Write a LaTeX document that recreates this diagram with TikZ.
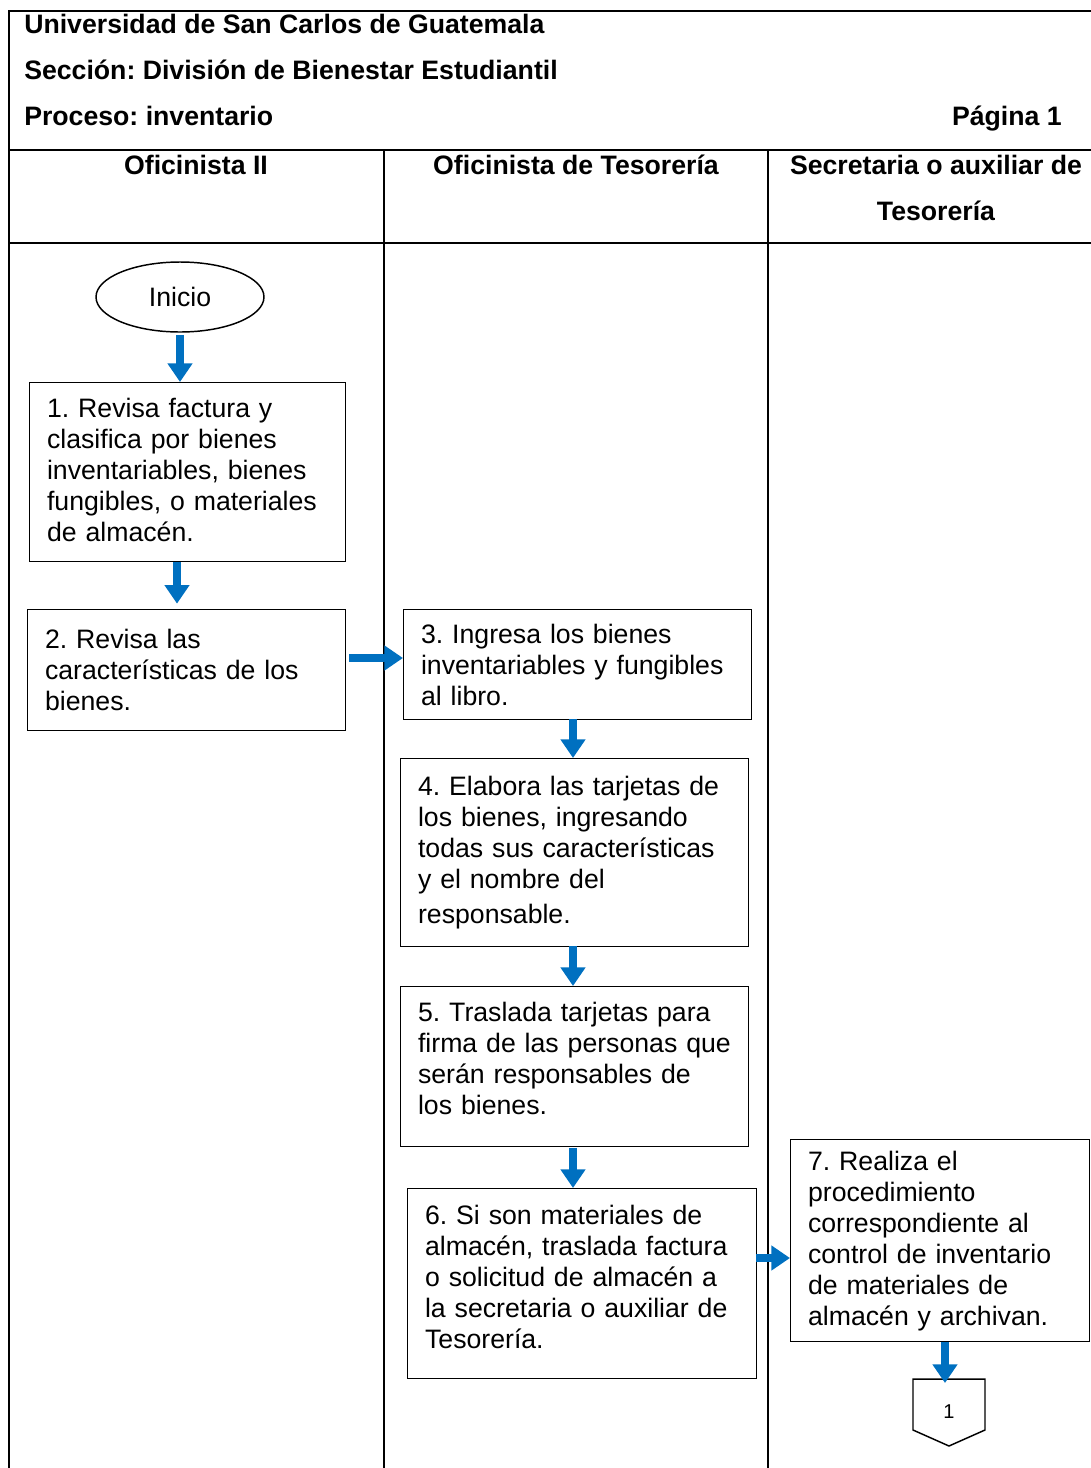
\documentclass[tikz,border=0pt]{standalone}
\usepackage{fontspec}
\setmainfont{Liberation Sans}
\frenchspacing
\usetikzlibrary{arrows.meta,shapes.geometric,positioning}
\definecolor{azul}{RGB}{0,112,192}
\newcommand{\colchon}[1]{\par\vspace{#1}\hrule height 0pt}
\tikzset{
  caja/.style={draw,line width=1.1pt,anchor=north west,align=left,inner xsep=13pt,
    font=\fontsize{20}{23.25}\selectfont},
  flecha/.style={azul,line width=6pt,-{Triangle[length=14pt,width=18pt]}},
  tabla/.style={line width=1.5pt},
  titulo/.style={font=\fontsize{20}{23}\selectfont\bfseries,inner sep=0pt}
}
\begin{document}
\begin{tikzpicture}[x=0.75pt,y=-0.75pt]
\useasboundingbox (0,0) rectangle (1091,1468);
\clip (0,0) rectangle (1091,1468);
% marco y carriles
\draw[tabla] (1100,11) -- (9,11) -- (9,1480);
\draw[tabla] (9,150) -- (1100,150);
\draw[tabla] (9,243) -- (1100,243);
\draw[tabla] (384,150) -- (384,1480);
\draw[tabla] (768,150) -- (768,1480);
% encabezado
\node[titulo,anchor=base west] (univ) at (24,33) {Universidad de San Carlos de Guatemala};
\node[titulo,anchor=base west] (secc) at (24,79) {Sección: División de Bienestar Estudiantil};
\node[titulo,anchor=base west] (proc) at (24,125) {Proceso: inventario};
\node[titulo,anchor=base east] (pag) at (1062,125) {Página 1};
\node[titulo,anchor=base] (of2) at (196,174) {Oficinista II};
\node[titulo,anchor=base] (oft) at (576,174) {Oficinista de Tesorería};
\node[titulo,anchor=base] (sec1) at (936,174) {Secretaria o auxiliar de};
\node[titulo,anchor=base] (sec2) at (936,220) {Tesorería};
% pasos
\node[draw,ellipse,line width=1.1pt,minimum width=126pt,minimum height=52.5pt,inner sep=0pt,
  font=\fontsize{20}{23}\selectfont] (ini) at (180,297) {Inicio};
\node[caja,text width=211pt,minimum height=134.25pt] (b1) at (29,382)
  {1. Revisa factura y\\clasifica por bienes\\inventariables, bienes\\fungibles, o materiales\\de almacén.\colchon{3pt}};
\node[caja,text width=212.5pt,minimum height=90.75pt] (b2) at (27,609)
  {2. Revisa las\\características de los\\bienes.};
\node[caja,text width=235pt,minimum height=82.5pt] (b3) at (403,609)
  {3. Ingresa los bienes\\inventariables y fungibles\\al libro.};
\node[caja,text width=235pt,minimum height=141pt] (b4) at (400,758)
  {4. Elabora las tarjetas de\\los bienes, ingresando\\todas sus características\\y el nombre del\\[3pt]responsable.};
\node[caja,text width=235pt,minimum height=120pt] (b5) at (400,986)
  {5. Traslada tarjetas para\\firma de las personas que\\serán responsables de\\los bienes.\colchon{12pt}};
\node[caja,text width=235.75pt,minimum height=142.5pt] (b6) at (407,1188)
  {6. Si son materiales de\\almacén, traslada factura\\o solicitud de almacén a\\la secretaria o auxiliar de\\Tesorería.\colchon{10pt}};
\node[caja,text width=198.25pt,minimum height=151.5pt] (b7) at (790,1139)
  {7. Realiza el\\procedimiento\\correspondiente al\\control de inventario\\de materiales de\\almacén y archivan.};
% conector de pagina
\draw[line width=1.1pt] (913,1379) -- (985,1379) -- (985,1430) -- (949,1446) -- (913,1430) -- cycle;
\node[font=\fontsize{15}{17}\selectfont] (c1) at (949,1412) {1};
\coordinate (c1top) at (945,1383);
% flechas
\draw[flecha,shorten <=2pt] (ini.south) -- (ini.south |- b1.north);
\draw[flecha,shorten >=4pt] (177,562) -- (177,609 |- b2.north);
\draw[flecha] (349,658) -- (349,658 -| b3.west);
\draw[flecha] (573,719) -- (573,719 |- b4.north);
\draw[flecha] (573,946) -- (573,946 |- b5.north);
\draw[flecha] (573,1148) -- (573,1148 |- b6.north);
\draw[flecha] (756,1258) -- (756,1258 -| b7.west);
\draw[flecha] (b7.south -| c1top) -- (c1top);
\end{tikzpicture}
\end{document}
